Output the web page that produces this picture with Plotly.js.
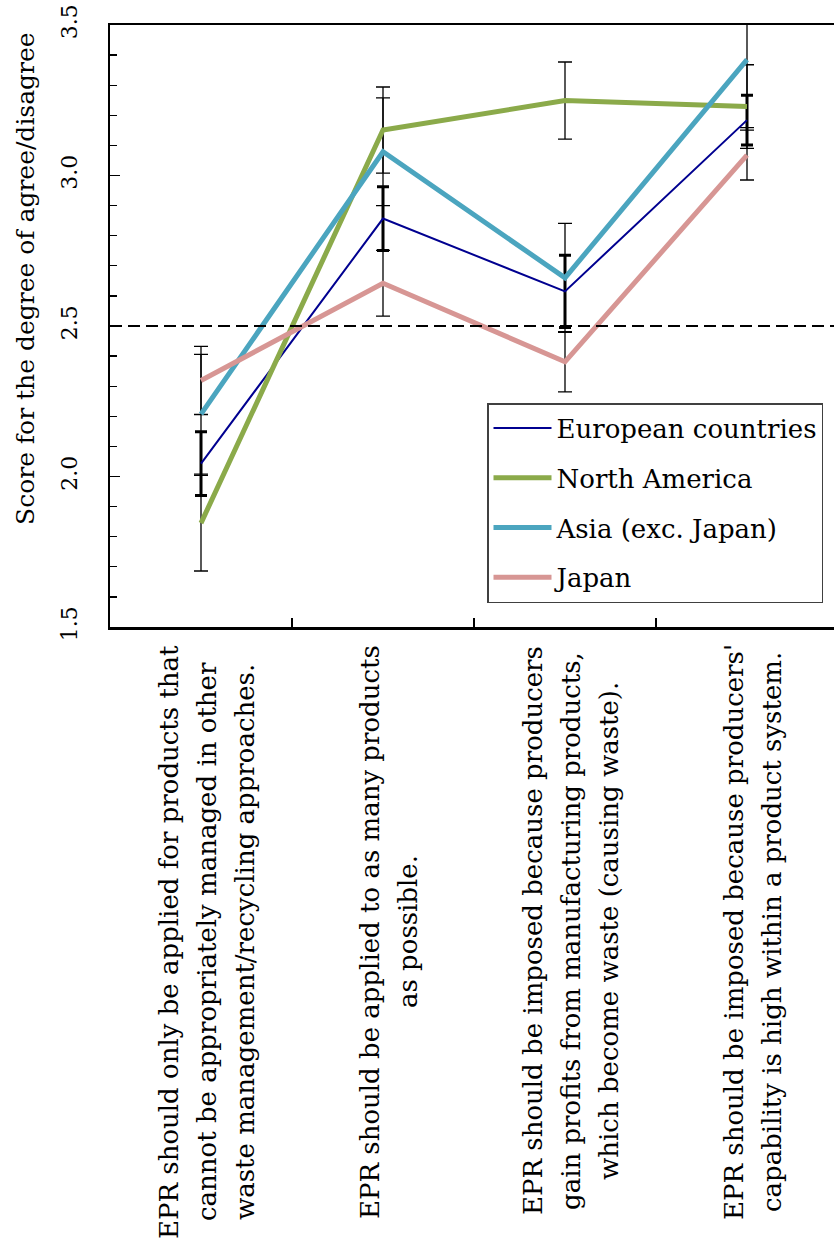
<!DOCTYPE html>
<html>
<head>
<meta charset="utf-8">
<script src="https://cdn.plot.ly/plotly-3.0.1.min.js"></script>
<style>
  html, body { margin: 0; padding: 0; overflow: hidden; background: #ffffff; }
  #chart { width: 840px; height: 1245px; }
</style>
</head>
<body>
<div id="chart"></div>
<script>
// Statement positions along the x axis and their wrapped wording
const statementIndex = [0, 1, 2, 3];
const statementLines = [
  ["EPR should only be applied for products that",
   "cannot be appropriately managed in other",
   "waste management/recycling approaches."],
  ["EPR should be applied to as many products",
   "as possible."],
  ["EPR should be imposed because producers",
   "gain profits from manufacturing products,",
   "which become waste (causing waste)."],
  ["EPR should be imposed because producers'",
   "capability is high within a product system."]
];

// Mean scores and error half-widths per region
const seriesNames = ["European countries", "North America", "Asia (exc. Japan)", "Japan"];
const europeScore = [2.043, 2.857, 2.615, 3.184];
const europeErr   = [0.106, 0.106, 0.120, 0.083];
const naScore     = [1.845, 3.151, 3.249, 3.229];
const naErr       = [0.159, 0.143, 0.128, 0.139];
const asiaScore   = [2.207, 3.079, 2.660, 3.385];
const asiaErr     = [0.199, 0.179, 0.181, 0.226];
const japanScore  = [2.319, 2.642, 2.381, 3.068];
const japanErr    = [0.113, 0.109, 0.100, 0.083];

const neutralScore = 2.5;
const yTickValues = [1.5, 2.0, 2.5, 3.0, 3.5];

const FONT = "'DejaVu Serif', 'Liberation Serif', serif";

const scores = [europeScore, naScore, asiaScore, japanScore];
const errs = [europeErr, naErr, asiaErr, japanErr];
const colors = ["#000090", "#8BAA4A", "#4BA5BF", "#D79694"];
const widths = [2, 5, 5, 5];

const traces = [];
// error bars first so the lines sit on top of them
scores.forEach((s, i) => {
  const thick = i === 0;
  traces.push({
    x: statementIndex, y: s, type: "scatter", mode: "markers",
    marker: {size: 0, color: "rgba(0,0,0,0)"},
    error_y: {type: "data", array: errs[i], visible: true, color: "#000000",
              thickness: thick ? 3 : 1.3, width: thick ? 6 : 7},
    showlegend: false, hoverinfo: "skip"
  });
});
scores.forEach((s, i) => {
  traces.push({
    x: statementIndex, y: s, type: "scatter", mode: "lines",
    name: seriesNames[i], legendgroup: "g" + i,
    line: {color: colors[i], width: widths[i]}
  });
});

// axis geometry in pixels, used to place the outside labels
const L = 110, T = 25, PH = 602;
const pxToPaperY = py => (T + PH - py) / PH;
const pxToPaperX = px => (px - L) / 728;

const annotations = [{
  text: "Score for the degree of agree/disagree",
  textangle: -90, showarrow: false,
  xref: "paper", yref: "paper",
  x: pxToPaperX(25), y: pxToPaperY(279),
  xanchor: "center", yanchor: "middle",
  font: {family: FONT, size: 25, color: "#000"}
}];

const labelCenters = [942, 932, 931, 932];
const lineGap = 38;
statementLines.forEach((lines, c) => {
  lines.forEach((t, k) => {
    annotations.push({
      text: t, textangle: -90, showarrow: false,
      xref: "x", yref: "paper",
      x: statementIndex[c], y: pxToPaperY(labelCenters[c]),
      xshift: (k - (lines.length - 1) / 2) * lineGap + 6,
      xanchor: "center", yanchor: "middle",
      font: {family: FONT, size: 26, color: "#000"}
    });
  });
});

const layout = {
  width: 840, height: 1245,
  margin: {l: L, r: 2, t: T, b: 1245 - T - PH},
  paper_bgcolor: "#ffffff", plot_bgcolor: "#ffffff",
  showlegend: true,
  xaxis: {
    range: [-0.5, 3.5], showgrid: false, zeroline: false,
    tickvals: [0.5, 1.5, 2.5], ticks: "inside", ticklen: 9, tickwidth: 1.3,
    tickcolor: "#000", showticklabels: false,
    showline: true, linecolor: "#000", linewidth: 2.5, mirror: true
  },
  yaxis: {
    range: [1.5, 3.5], showgrid: false, zeroline: false,
    tickvals: yTickValues, tickformat: ".1f",
    ticks: "inside", ticklen: 10, tickwidth: 1.3, tickcolor: "#000",
    minor: {dtick: 0.1, ticks: "inside", ticklen: 7, tickwidth: 1.3, tickcolor: "#000", showgrid: false},
    tickangle: -90, ticklabelstandoff: 22,
    tickfont: {family: FONT, size: 22, color: "#000"},
    showline: true, linecolor: "#000", linewidth: 2.5, mirror: true
  },
  shapes: [{
    type: "line", xref: "paper", yref: "y", x0: 0, x1: 1,
    y0: neutralScore, y1: neutralScore,
    line: {color: "#000", width: 2, dash: "12px,6px"}
  }],
  legend: {
    x: pxToPaperX(487), y: pxToPaperY(403), xanchor: "left", yanchor: "top",
    bgcolor: "#ffffff", bordercolor: "#404040", borderwidth: 1.5,
    font: {family: FONT, size: 26, color: "#000"},
    traceorder: "grouped", tracegroupgap: 13, itemwidth: 58
  },
  annotations: annotations
};

Plotly.newPlot("chart", traces, layout, {staticPlot: true});
</script>
</body>
</html>
